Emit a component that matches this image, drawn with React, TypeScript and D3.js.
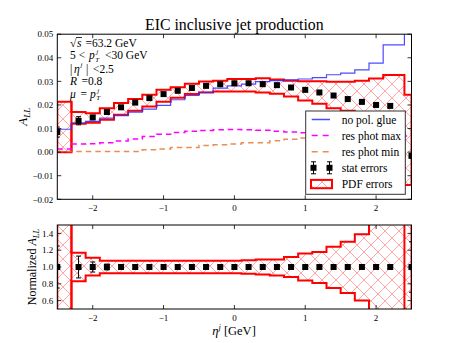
import React from 'react';
import * as d3 from 'd3';

// bin edges (eta) and point positions
const binEdges = [-2.5, -2.3, -2.1, -1.9, -1.7, -1.5, -1.3, -1.1, -0.9, -0.7, -0.5, -0.3, -0.1, 0.1, 0.3, 0.5, 0.7, 0.9, 1.1, 1.3, 1.5, 1.7, 1.9, 2.1, 2.4, 2.5];
const etaPoints = [-2.5, -2.2, -2.0, -1.8, -1.6, -1.4, -1.2, -1.0, -0.8, -0.6, -0.4, -0.2, 0.0, 0.2, 0.4, 0.6, 0.8, 1.0, 1.2, 1.4, 1.6, 1.8, 2.0, 2.2, 2.5];

// central A_LL values (black squares)
const allCentral = [0.0085, 0.0133, 0.0147, 0.017, 0.019, 0.021, 0.0229, 0.0246, 0.026, 0.0272, 0.0281, 0.0288, 0.0292, 0.0292, 0.0288, 0.0284, 0.0274, 0.0264, 0.0253, 0.024, 0.0225, 0.0213, 0.020, 0.0196, -0.0016];
// relative stat errors
const statRel = [0.25, 0.13, 0.06, 0.035, 0.03, 0.025, 0.02, 0.02, 0.02, 0.02, 0.02, 0.02, 0.02, 0.02, 0.02, 0.02, 0.02, 0.02, 0.02, 0.02, 0.02, 0.02, 0.02, 0.02, 0.3];
// PDF error band (absolute)
const pdfUpper = [0.0214, 0.017, 0.0165, 0.0186, 0.0208, 0.0225, 0.0243, 0.0264, 0.0275, 0.029, 0.0299, 0.0303, 0.031, 0.031, 0.0313, 0.0308, 0.0303, 0.030, 0.030, 0.0298, 0.0298, 0.0303, 0.0312, 0.0327, 0.0243];
const pdfLower = [0.0, 0.012, 0.0125, 0.0137, 0.0158, 0.0175, 0.0193, 0.0214, 0.0231, 0.0246, 0.0253, 0.0257, 0.0257, 0.0257, 0.0253, 0.0247, 0.0236, 0.0219, 0.0205, 0.0186, 0.0175, 0.015, 0.012, 0.008, -0.0139];
// no polarized gluon
const noPolGlue = [0.0097, 0.0123, 0.013, 0.0144, 0.0155, 0.017, 0.0182, 0.0198, 0.0222, 0.024, 0.0253, 0.0271, 0.0281, 0.0288, 0.0299, 0.0303, 0.0306, 0.031, 0.0316, 0.0328, 0.0335, 0.0349, 0.0377, 0.0455, 0.06];
// resolved photon max / min
const resPhotMax = [0.0013, 0.0034, 0.0036, 0.004, 0.0047, 0.0056, 0.0066, 0.0076, 0.0083, 0.0088, 0.0092, 0.0095, 0.0096, 0.0095, 0.0093, 0.0089, 0.0085, 0.0082, 0.008, 0.0078, 0.0076, 0.0074, 0.0072, 0.007, 0.0068];
const resPhotMin = [0.0003, 0.0003, 0.0003, 0.0003, 0.0003, 0.0003, 0.001, 0.0013, 0.002, 0.002, 0.0028, 0.0031, 0.0034, 0.004, 0.004, 0.0048, 0.0055, 0.006, 0.0064, 0.0068, 0.007, 0.0072, 0.0074, 0.0076, 0.0078];
// normalized PDF band
const normUpper = [3.0, 1.17, 1.11, 1.075, 1.075, 1.075, 1.075, 1.075, 1.075, 1.075, 1.075, 1.075, 1.075, 1.08, 1.09, 1.09, 1.12, 1.16, 1.18, 1.24, 1.30, 1.39, 3.0, 3.0, -3.0];
const normLower = [-1.0, 0.83, 0.90, 0.925, 0.925, 0.925, 0.925, 0.925, 0.925, 0.925, 0.925, 0.925, 0.925, 0.92, 0.91, 0.90, 0.88, 0.84, 0.81, 0.75, 0.69, 0.60, -1.0, -1.0, 5.0];

const topYTicks = [-0.02, -0.01, 0.0, 0.01, 0.02, 0.03, 0.04, 0.05];
const botYTicks = [0.6, 0.8, 1.0, 1.2, 1.4];
const xTicks = [-2, -1, 0, 1, 2];

const FONT = '"Liberation Serif", "DejaVu Serif", serif';

const x = d3.scaleLinear().domain([-2.5, 2.5]).range([57.3, 411.5]);
const yTop = d3.scaleLinear().domain([-0.02, 0.05]).range([199.3, 34.2]);
const yBot = d3.scaleLinear().domain([0.5, 1.5]).range([309, 225]);

const fmtMinus = (s: string) => s.replace('-', '\u2212');

function stepPts(vals: number[]) {
  const pts: [number, number][] = vals.map((v, i) => [binEdges[i], v]);
  pts.push([binEdges[binEdges.length - 1], vals[vals.length - 1]]);
  return pts;
}
function bandPts(lo: number[], hi: number[]) {
  const pts: [number, number, number][] = lo.map((v, i) => [binEdges[i], v, hi[i]]);
  pts.push([binEdges[binEdges.length - 1], lo[lo.length - 1], hi[hi.length - 1]]);
  return pts;
}

function Panel({ y, ticks, fmt, clipId, children }: any) {
  const [r0, r1] = y.range();
  const top = Math.min(r0, r1), bot = Math.max(r0, r1);
  const L = x.range()[0], R = x.range()[1];
  return (
    <g>
      <defs>
        <clipPath id={clipId}>
          <rect x={L} y={top} width={R - L} height={bot - top} />
        </clipPath>
      </defs>
      <g clipPath={`url(#${clipId})`}>{children}</g>
      <rect x={L} y={top} width={R - L} height={bot - top} fill="none" stroke="#000" strokeWidth={1} />
      {ticks.map((t: number) => (
        <g key={'y' + t}>
          <line x1={L} x2={L + 4} y1={y(t)} y2={y(t)} stroke="#000" strokeWidth={0.8} />
          <line x1={R} x2={R - 4} y1={y(t)} y2={y(t)} stroke="#000" strokeWidth={0.8} />
          <text x={L - 4} y={y(t) + 3.2} textAnchor="end" fontSize={9} fontFamily={FONT}>{fmtMinus(fmt(t))}</text>
        </g>
      ))}
      {xTicks.map((t) => (
        <g key={'x' + t}>
          <line x1={x(t)} x2={x(t)} y1={bot} y2={bot - 4} stroke="#000" strokeWidth={0.8} />
          <line x1={x(t)} x2={x(t)} y1={top} y2={top + 4} stroke="#000" strokeWidth={0.8} />
          <text x={x(t)} y={bot + 12} textAnchor="middle" fontSize={9} fontFamily={FONT}>{fmtMinus(String(t))}</text>
        </g>
      ))}
    </g>
  );
}

function Band({ y, lo, hi }: any) {
  const area = d3.area<[number, number, number]>()
    .x((d) => x(d[0])).y0((d) => y(d[1])).y1((d) => y(d[2]))
    .curve(d3.curveStepAfter);
  const p = area(bandPts(lo, hi)) || '';
  return (
    <g>
      <path d={p} fill="url(#hatch)" stroke="none" />
      <path d={p} fill="none" stroke="#ff0000" strokeWidth={2} />
      <line x1={x(binEdges[1])} x2={x(binEdges[1])} y1={y(lo[0])} y2={y(hi[0])} stroke="#ff0000" strokeWidth={2} />
    </g>
  );
}

function StepLine({ y, vals, color, width, dash, opacity }: any) {
  const line = d3.line<[number, number]>().x((d) => x(d[0])).y((d) => y(d[1])).curve(d3.curveStepAfter);
  return <path d={line(stepPts(vals)) || ''} fill="none" stroke={color} strokeWidth={width} strokeDasharray={dash} strokeOpacity={opacity ?? 1} />;
}

function Points({ y, vals, errs }: any) {
  return (
    <g>
      {etaPoints.map((e, i) => {
        const cx = x(e), cy = y(vals[i]);
        const e1 = y(vals[i] + errs[i]), e2 = y(vals[i] - errs[i]);
        return (
          <g key={i}>
            <line x1={cx} x2={cx} y1={e1} y2={e2} stroke="#000" strokeWidth={1} />
            <line x1={cx - 2.5} x2={cx + 2.5} y1={e1} y2={e1} stroke="#000" strokeWidth={1} />
            <line x1={cx - 2.5} x2={cx + 2.5} y1={e2} y2={e2} stroke="#000" strokeWidth={1} />
            <rect x={cx - 3} y={cy - 3} width={6} height={6} fill="#000" />
          </g>
        );
      })}
    </g>
  );
}

// p_T^j with stacked sub/superscript
function PTj({ x0, y0 }: { x0: number; y0: number }) {
  return (
    <g>
      <text x={x0} y={y0} fontStyle="italic">p</text>
      <text x={x0 + 6.2} y={y0 + 2.2} fontStyle="italic" fontSize={7}>T</text>
      <text x={x0 + 7.2} y={y0 - 5.4} fontStyle="italic" fontSize={7}>j</text>
    </g>
  );
}

export default function App() {
  const statAbs = allCentral.map((v, i) => Math.abs(v) * statRel[i]);
  const ones = allCentral.map(() => 1.0);
  const legendRows = [
    { label: 'no pol. glue', kind: 'line', color: '#2a2aff', dash: undefined, op: 0.85 },
    { label: 'res phot max', kind: 'line', color: '#ff00ff', dash: '6,5', op: 1 },
    { label: 'res phot min', kind: 'line', color: '#e07b39', dash: '6,5', op: 0.85 },
    { label: 'stat errors', kind: 'pt' },
    { label: 'PDF errors', kind: 'patch' },
  ];
  const lgX = 305.7, lgY = 111, lgW = 99.6, lgH = 83.3;
  const ax = 70;
  const ly = [46.5, 59.3, 72.6, 85.2, 97.9];
  return (
    <svg width={457} height={343} style={{ position: 'absolute', left: 0, top: 0, background: '#fff' }}>
      <defs>
        <pattern id="hatch" patternUnits="userSpaceOnUse" width={14} height={14}>
          <path d="M0,0 L14,14 M14,0 L0,14 M-1,13 L1,15 M13,-1 L15,1 M-1,1 L1,-1 M13,15 L15,13" stroke="#ff9c9c" strokeWidth={0.9} fill="none" />
        </pattern>
      </defs>
      <rect x={0} y={0} width={457} height={343} fill="#fff" />
      <text x={234.3} y={29.5} textAnchor="middle" fontSize={15.8} fontFamily={FONT}>EIC inclusive jet production</text>

      <Panel y={yTop} ticks={topYTicks} fmt={(t: number) => t.toFixed(2)} clipId="clipTop">
        <Band y={yTop} lo={pdfLower} hi={pdfUpper} />
        <StepLine y={yTop} vals={noPolGlue} color="#2a2aff" width={1.2} opacity={0.85} />
        <StepLine y={yTop} vals={resPhotMax} color="#ff00ff" width={1.5} dash="5.5,4" />
        <StepLine y={yTop} vals={resPhotMin} color="#e07b39" width={1.5} dash="5.5,4" opacity={0.85} />
        <Points y={yTop} vals={allCentral} errs={statAbs} />
      </Panel>

      <Panel y={yBot} ticks={botYTicks} fmt={(t: number) => t.toFixed(1)} clipId="clipBot">
        <Band y={yBot} lo={normLower} hi={normUpper} />
        <Points y={yBot} vals={ones} errs={statRel} />
      </Panel>

      {/* annotation */}
      <g fontFamily={FONT} fontSize={11.5}>
        <text x={ax} y={ly[0]}>√</text>
        <line x1={ax + 6} x2={ax + 12} y1={ly[0] - 9} y2={ly[0] - 9} stroke="#000" strokeWidth={0.8} />
        <text x={ax + 7} y={ly[0]} fontStyle="italic">s</text>
        <text x={ax + 15.5} y={ly[0]}>=63.2 GeV</text>

        <text x={ax} y={ly[1]}>5 &lt;</text>
        <PTj x0={ax + 19} y0={ly[1]} />
        <text x={ax + 35} y={ly[1]}>&lt;30 GeV</text>

        <text x={ax} y={ly[2]}>|</text>
        <text x={ax + 4} y={ly[2]} fontStyle="italic">η</text>
        <text x={ax + 10.5} y={ly[2] - 5.5} fontStyle="italic" fontSize={7}>j</text>
        <text x={ax + 16} y={ly[2]}>|</text>
        <text x={ax + 23} y={ly[2]}>&lt;2.5</text>

        <text x={ax} y={ly[3]} fontStyle="italic">R</text>
        <text x={ax + 11.5} y={ly[3]}>=0.8</text>

        <text x={ax} y={ly[4]} fontStyle="italic">μ</text>
        <text x={ax + 10.5} y={ly[4]}>=</text>
        <PTj x0={ax + 20} y0={ly[4]} />
      </g>

      {/* legend */}
      <g>
        <rect x={lgX} y={lgY} width={lgW} height={lgH} fill="#fff" stroke="#333" strokeWidth={1} />
        {legendRows.map((r, i) => {
          const cy = 119.5 + i * 16.1;
          let handle: any = null;
          if (r.kind === 'line') {
            handle = <line x1={311.7} x2={330} y1={cy} y2={cy} stroke={r.color} strokeWidth={1.5} strokeDasharray={r.dash} strokeOpacity={r.op} />;
          } else if (r.kind === 'pt') {
            handle = (
              <g>
                {[313.5, 329.5].map((hx) => (
                  <g key={hx}>
                    <line x1={hx} x2={hx} y1={cy - 6} y2={cy + 6} stroke="#000" strokeWidth={1} />
                    <line x1={hx - 2.5} x2={hx + 2.5} y1={cy - 6} y2={cy - 6} stroke="#000" strokeWidth={1} />
                    <line x1={hx - 2.5} x2={hx + 2.5} y1={cy + 6} y2={cy + 6} stroke="#000" strokeWidth={1} />
                    <rect x={hx - 3} y={cy - 3} width={6} height={6} fill="#000" />
                  </g>
                ))}
              </g>
            );
          } else {
            handle = <rect x={311} y={cy - 4} width={21} height={8.3} fill="url(#hatch)" stroke="#ff0000" strokeWidth={2} />;
          }
          return (
            <g key={i}>
              {handle}
              <text x={341.7} y={cy + 4} fontSize={11.5} fontFamily={FONT}>{r.label}</text>
            </g>
          );
        })}
      </g>

      {/* axis labels */}
      <text transform={`translate(27,${(34.2 + 199.3) / 2}) rotate(-90)`} textAnchor="middle" fontFamily={FONT} fontSize={13}>
        <tspan fontStyle="italic">A</tspan><tspan fontStyle="italic" fontSize={9} dy={3}>LL</tspan>
      </text>
      <text transform={`translate(35.5,267) rotate(-90)`} textAnchor="middle" fontFamily={FONT} fontSize={12}>
        <tspan>Normalized </tspan><tspan fontStyle="italic">A</tspan><tspan fontStyle="italic" fontSize={8.5} dy={3}>LL</tspan>
      </text>
      <text x={234} y={335} textAnchor="middle" fontFamily={FONT} fontSize={12.5}>
        <tspan fontStyle="italic">η</tspan><tspan fontStyle="italic" fontSize={8.5} dy={-5}>j</tspan><tspan dy={5}> [GeV]</tspan>
      </text>
    </svg>
  );
}
